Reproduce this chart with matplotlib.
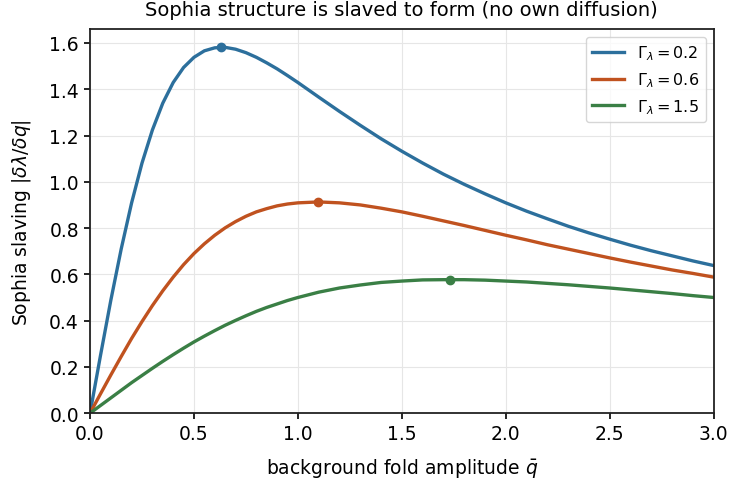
import matplotlib
matplotlib.use("Agg")
import matplotlib.pyplot as plt

q = [0, 0.05, 0.1, 0.15, 0.2, 0.25, 0.3, 0.35, 0.4, 0.45, 0.5, 0.55, 0.6,
     0.65, 0.7, 0.75, 0.8, 0.85, 0.9, 0.95, 1.0,
     1.1, 1.2, 1.3, 1.4, 1.5, 1.6, 1.7, 1.8, 1.9, 2.0,
     2.1, 2.2, 2.3, 2.4, 2.5, 2.6, 2.7, 2.8, 2.9, 3.0]

slav_02 = [0, 0.248, 0.488, 0.710, 0.909, 1.081, 1.224, 1.340, 1.429, 1.494,
           1.538, 1.566, 1.579, 1.581, 1.573, 1.558, 1.538, 1.514, 1.488,
           1.459, 1.429,
           1.366, 1.304, 1.244, 1.186, 1.132, 1.081, 1.033, 0.989, 0.948,
           0.909, 0.873, 0.840, 0.808, 0.779, 0.752, 0.726, 0.702, 0.680,
           0.658, 0.638]
slav_06 = [0, 0.083, 0.165, 0.245, 0.323, 0.396, 0.465, 0.529, 0.588, 0.642,
           0.690, 0.732, 0.769, 0.801, 0.828, 0.851, 0.870, 0.884, 0.896,
           0.904, 0.909,
           0.913, 0.909, 0.900, 0.886, 0.870, 0.851, 0.831, 0.811, 0.790,
           0.769, 0.749, 0.728, 0.709, 0.690, 0.671, 0.653, 0.636, 0.619,
           0.604, 0.588]
slav_15 = [0, 0.033, 0.066, 0.099, 0.132, 0.163, 0.194, 0.224, 0.253, 0.281,
           0.308, 0.333, 0.357, 0.380, 0.401, 0.421, 0.440, 0.457, 0.472,
           0.487, 0.500,
           0.523, 0.541, 0.554, 0.565, 0.571, 0.576, 0.577, 0.577, 0.575,
           0.571, 0.567, 0.561, 0.555, 0.548, 0.541, 0.533, 0.525, 0.517,
           0.508, 0.500]

peak_q = [0.632, 1.095, 1.732]
peak_val = [1.581, 0.913, 0.577]

labels = [r'$\Gamma_\lambda = 0.2$', r'$\Gamma_\lambda = 0.6$', r'$\Gamma_\lambda = 1.5$']
colors = ['#2c6f9c', '#c0521f', '#3a7f45']

fig, ax = plt.subplots(figsize=(7.32, 4.85), dpi=100)

for i, ys in enumerate([slav_02, slav_06, slav_15]):
    ax.plot(q, ys, color=colors[i], lw=2.4, label=labels[i])
    ax.plot(peak_q[i], peak_val[i], 'o', color=colors[i], ms=6)

ax.set_xlim(0, 3.0)
ax.set_ylim(0, 1.66)
ax.set_xticks([0, 0.5, 1.0, 1.5, 2.0, 2.5, 3.0])
ax.set_yticks([0, 0.2, 0.4, 0.6, 0.8, 1.0, 1.2, 1.4, 1.6])
ax.tick_params(labelsize=13.5, width=1.2, length=4.5)
for s in ax.spines.values():
    s.set_linewidth(1.3)
    s.set_color('#222222')
ax.grid(True, color='#e6e6e6', lw=0.8)
ax.set_xlabel(r'background fold amplitude $\bar{q}$', fontsize=13.5, labelpad=9)
ax.set_ylabel(r'Sophia slaving $|\delta\lambda/\delta q|$', fontsize=13.5, labelpad=12)
ax.set_title('Sophia structure is slaved to form (no own diffusion)', fontsize=14, pad=10)
ax.legend(loc='upper right', fontsize=11.5)

fig.subplots_adjust(left=0.123, right=0.975, top=0.938, bottom=0.146)
fig.savefig('out.png', dpi=100)
